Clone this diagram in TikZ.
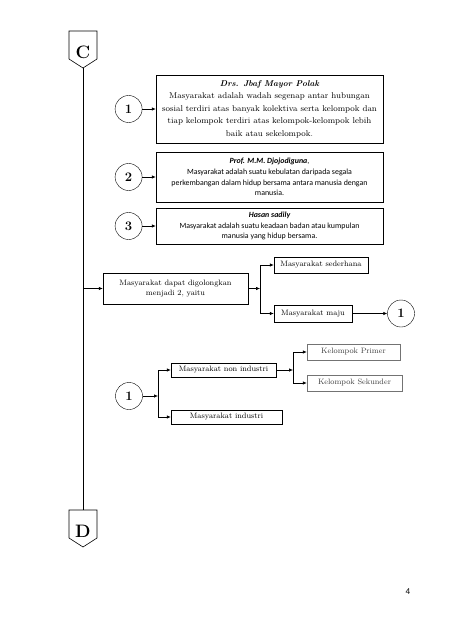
\documentclass[tikz,border=0pt]{standalone}
\usepackage{fontspec}
\newfontfamily\calib{Carlito}
\usetikzlibrary{positioning,arrows.meta}

\begin{document}
\begin{tikzpicture}[x=1pt, y=-1pt,
    defbox/.style={draw, rectangle, align=center, inner sep=2pt, minimum width=227pt, font=\fontsize{8.4}{12.5}\selectfont},
    sansbox/.style={defbox, font=\calib\fontsize{7.9}{10.8}\selectfont},
    block/.style={draw, rectangle, align=center, inner sep=1pt, font=\fontsize{7.8}{10}\selectfont},
    greyblock/.style={block, draw=black!55, text=black!75},
    num/.style={draw, circle, minimum size=27pt, inner sep=0pt, font=\fontsize{13}{13}\selectfont\bfseries},
    letter/.style={inner sep=0pt, font=\fontsize{18}{18}\selectfont\bfseries},
    line/.style={-{Latex[length=4pt,width=3.4pt]}, line width=0.6pt},
    link/.style={line width=0.6pt}
]
\useasboundingbox (0,0) rectangle (452,640);

% Off-page connectors and main line
\node[letter] (C) at (83,52) {C};
\draw[link] ([shift={(-14,-21)}]C.center) -- ([shift={(14,-21)}]C.center) -- ([shift={(14,7)}]C.center)
    -- ([shift={(0,16)}]C.center) coordinate (Ctip) -- ([shift={(-14,7)}]C.center) -- cycle;
\node[letter] (D) at (83,531) {D};
\draw[link] ([shift={(-14,-21)}]D.center) coordinate (Dtl) -- ([shift={(14,-21)}]D.center) -- ([shift={(14,7)}]D.center)
    -- ([shift={(0,16)}]D.center) -- ([shift={(-14,7)}]D.center) -- cycle;
\coordinate (Dtop) at ([shift={(0,-21)}]D.center);
\draw[link] (Ctip) -- (Dtop);

% Definitions
\node[defbox, minimum height=68pt] (def1) at (269.5,109) {{\bfseries\itshape Drs. Jbaf Mayor Polak}\\
    Masyarakat adalah wadah segenap antar hubungan\\
    sosial terdiri atas banyak kolektiva serta kelompok dan\\
    tiap kelompok terdiri atas kelompok-kelompok lebih\\
    baik atau sekelompok.};
\node[sansbox, minimum height=50pt] (def2) at (269.5,177) {{\bfseries\itshape Prof. M.M. Djojodiguna},\\
    Masyarakat adalah suatu kebulatan daripada segala\\
    perkembangan dalam hidup bersama antara manusia dengan\\
    manusia.};
\node[sansbox, minimum height=36pt] (def3) at (269.5,226) {{\bfseries\itshape Hasan sadily}\\
    Masyarakat adalah suatu keadaan badan atau kumpulan\\
    manusia yang hidup bersama.};

\node[num, left=13.5pt of def1] (n1) {1};
\node[num, left=13.5pt of def2] (n2) {2};
\node[num, left=13.5pt of def3] (n3) {3};
\draw[line] (n1) -- (def1);
\draw[line] (n2) -- (def2);
\draw[line] (n3) -- (def3);

% Classification
\node[block, minimum width=145pt, minimum height=31pt] (golong) at (175.5,288.5) {Masyarakat dapat digolongkan\\menjadi 2, yaitu};
\node[block, minimum width=94pt, minimum height=16pt] (sederhana) at (321,265) {Masyarakat sederhana};
\node[block, minimum width=78pt, minimum height=17pt] (maju) at (313,313.5) {Masyarakat maju};
\node[num] (n4) at (401,313.5) {1};
\coordinate (j1) at (260,288.5);

\draw[line] (golong.west -| Ctip) -- (golong.west);
\draw[line] (golong) -- (j1);
\draw[link] (j1 |- sederhana) -- (j1 |- maju);
\draw[line] (j1 |- sederhana) -- (sederhana);
\draw[line] (j1 |- maju) -- (maju);
\draw[line] (maju) -- (n4);

% Masyarakat maju
\node[num] (n5) at (129,396) {1};
\node[block, minimum width=105pt, minimum height=14pt] (nonind) at (223.5,370) {Masyarakat non industri};
\node[block, minimum width=111pt, minimum height=14pt] (ind) at (226.5,417) {Masyarakat industri};
\node[greyblock, minimum width=93pt, minimum height=16pt] (primer) at (353.5,352) {Kelompok Primer};
\node[greyblock, minimum width=95pt, minimum height=16pt] (sekunder) at (354.5,383) {Kelompok Sekunder};
\coordinate (j2) at (158,396);
\coordinate (j3) at (293,370);

\draw[line] (n5) -- (j2);
\draw[link] (j2 |- nonind) -- (j2 |- ind);
\draw[line] (j2 |- nonind) -- (nonind);
\draw[line] (j2 |- ind) -- (ind);
\draw[line] (nonind) -- (j3);
\draw[link] (j3 |- primer) -- (j3 |- sekunder);
\draw[line] (j3 |- primer) -- (primer);
\draw[line] (j3 |- sekunder) -- (sekunder);

% Page number
\node[font=\calib\fontsize{9}{9}\selectfont] (page) at (408,592) {4};
\end{tikzpicture}
\end{document}
